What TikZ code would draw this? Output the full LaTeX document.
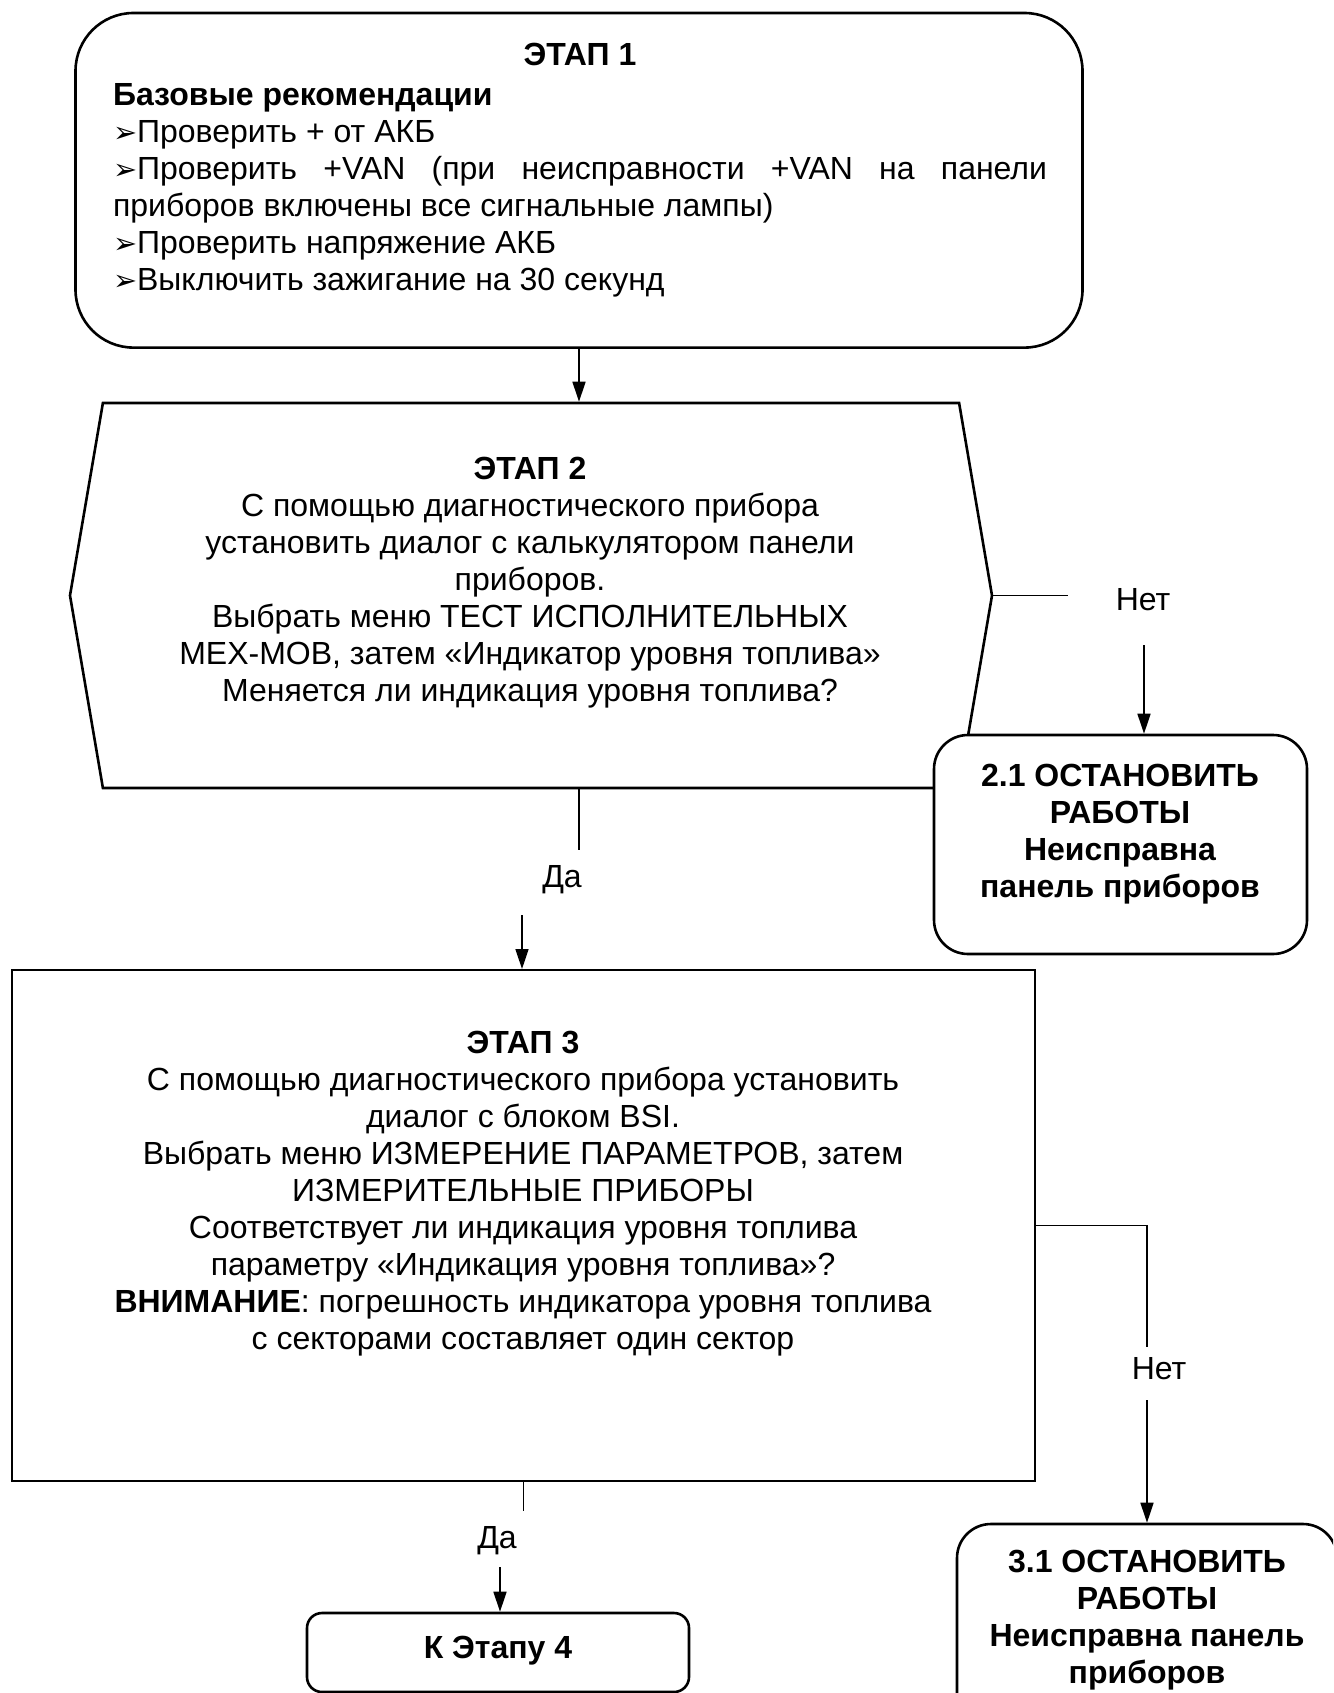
\documentclass[tikz,border=0pt]{standalone}
\usepackage{fontspec}
\setmainfont{Liberation Sans}
\newfontfamily\bulletfont[Scale=0.9]{DejaVu Sans}
\usetikzlibrary{arrows.meta, shapes.symbols}
\newcommand\arrbullet{{\bulletfont ➢}}
\tikzset{stagebox/.style = {draw, line width=2.6pt, fill=white, inner sep=0pt},
    stagetext/.style = {font=\fontsize{32}{37}\selectfont, align=center, inner sep=0pt},
    stoptext/.style = {stagetext, font=\fontsize{32}{37}\selectfont\bfseries},
    answer/.style = {font=\fontsize{32}{37}\selectfont, inner sep=0pt},
    link/.style = {line width=1.6pt},
    flow/.style = {line width=1.6pt, -{Triangle[length=20pt,width=13pt]}}}

\begin{document}
\begin{tikzpicture}[x=1pt, y=-1pt]
\useasboundingbox (0,0) rectangle (1333,1693);
\clip (0,0) rectangle (1333,1693);
% boxes
\node[stagebox, rounded corners=58pt, minimum width=1007pt, minimum height=334.6pt] (etap1) at (579,180.3) {};
\node[stagebox, signal, signal to=west and east, signal pointer angle=160.6,
      minimum width=922pt, minimum height=385pt] (etap2) at (531,595.5) {};
\node[stagebox, rounded corners=34pt, minimum width=373pt, minimum height=219pt] (stop21) at (1120.5,844.5) {};
\node[stagebox, line width=2pt, minimum width=1023pt, minimum height=511pt] (etap3) at (523.5,1225.5) {};
\node[stagebox, rounded corners=34pt, minimum width=380pt, minimum height=219pt] (stop31) at (1147,1633.5) {};
\node[stagebox, rounded corners=15pt, minimum width=382pt, minimum height=79pt] (etap4) at (498,1652.5) {};
% texts
\node[stagetext, text width=934pt, align=justify] (etap1txt) at (580,170) {%
{\centering\bfseries ЭТАП 1\par}\vspace{3pt}
\textbf{Базовые рекомендации}\par
\arrbullet Проверить + от АКБ\par
\arrbullet Проверить +VAN (при неисправности +VAN на панели\linebreak
приборов включены все сигнальные лампы)\par
\arrbullet Проверить напряжение АКБ\par
\arrbullet Выключить зажигание на 30 секунд};
\node[stagetext] (etap2txt) at (530,582.5) {\textbf{ЭТАП 2}\\
С помощью диагностического прибора\\
установить диалог с калькулятором панели\\
приборов.\\
Выбрать меню ТЕСТ ИСПОЛНИТЕЛЬНЫХ\\
МЕХ-МОВ, затем «Индикатор уровня топлива»\\
Меняется ли индикация уровня топлива?};
\node[stoptext] (stop21txt) at (1120,834) {2.1 ОСТАНОВИТЬ\\ РАБОТЫ\\ Неисправна\\ панель приборов};
\node[stagetext] (etap3txt) at (523,1194) {\textbf{ЭТАП 3}\\
С помощью диагностического прибора установить\\
диалог с блоком BSI.\\
Выбрать меню ИЗМЕРЕНИЕ ПАРАМЕТРОВ, затем\\
ИЗМЕРИТЕЛЬНЫЕ ПРИБОРЫ\\
Соответствует ли индикация уровня топлива\\
параметру «Индикация уровня топлива»?\\
\textbf{ВНИМАНИЕ}: погрешность индикатора уровня топлива\\
с секторами составляет один сектор};
\node[stoptext] (stop31txt) at (1147,1620) {3.1 ОСТАНОВИТЬ\\ РАБОТЫ\\ Неисправна панель\\ приборов};
\node[stoptext] (etap4txt) at (498,1651) {К Этапу 4};
% answers
\node[answer] (no2) at (1143,600) {Нет};
\node[answer] (yes2) at (562,880) {Да};
\node[answer] (no3) at (1159,1369) {Нет};
\node[answer] (yes3) at (497,1541) {Да};
\coordinate (no2a) at (1068,595.5);
\coordinate (no2b) at (1144,645);
\coordinate (yes2a) at (579,850);
\coordinate (yes2b) at (522,915);
\coordinate (no3a) at (1147,1347);
\coordinate (no3b) at (1147,1400);
\coordinate (yes3a) at (523.5,1511);
\coordinate (yes3b) at (500,1567);
% connectors
\draw[flow] (etap1.south) -- (etap1.south |- etap2.north);
\draw[link] (etap2.east) -- (no2a);
\draw[flow] (no2b) -- (no2b |- stop21.north);
\draw[link] (etap1.south |- etap2.south) -- (yes2a);
\draw[flow] (yes2b) -- (yes2b |- etap3.north);
\draw[link] (etap3.east) -| (no3a);
\draw[flow] (no3b) -- (no3b |- stop31.north);
\draw[link] (etap3.south) -- (yes3a);
\draw[flow] (yes3b) -- (yes3b |- etap4.north);
\end{tikzpicture}
\end{document}
